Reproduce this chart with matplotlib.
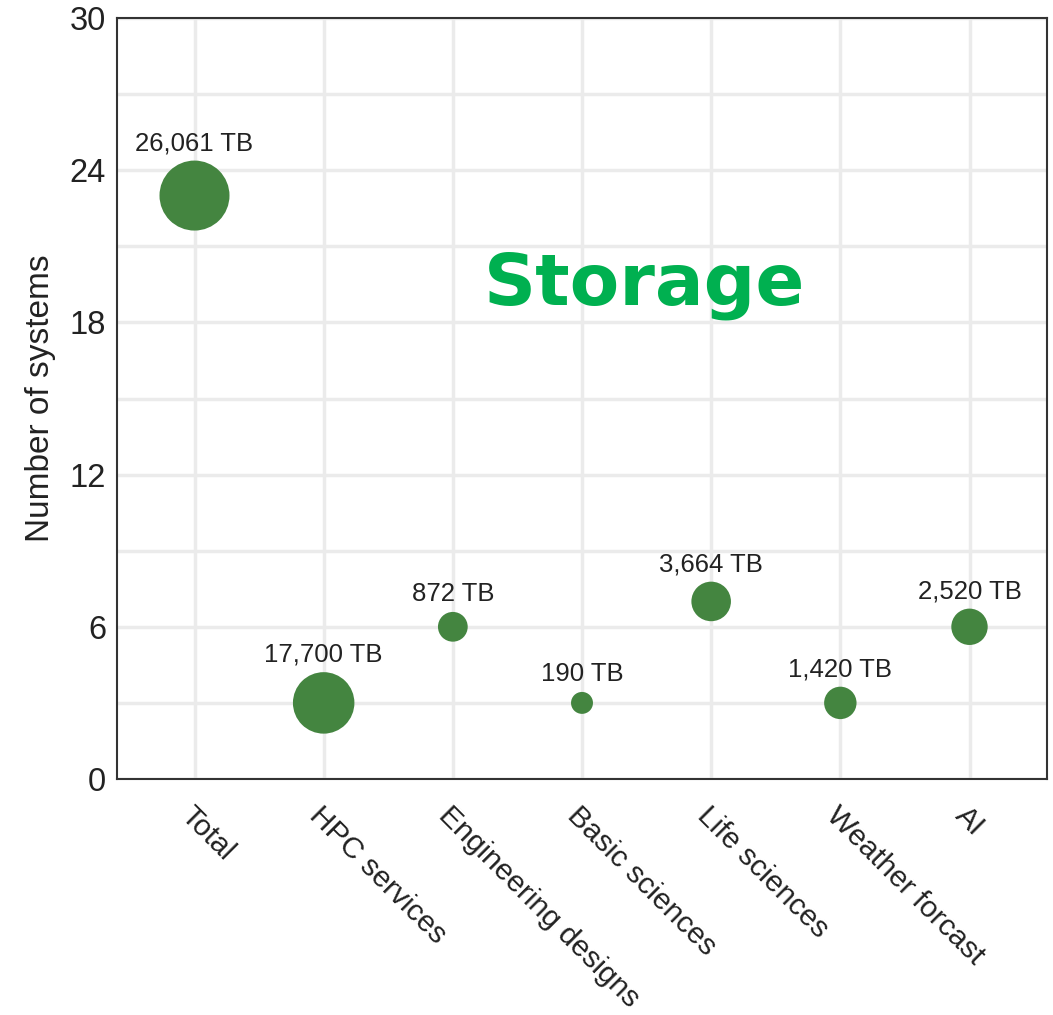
import matplotlib
matplotlib.use("Agg")
import matplotlib.pyplot as plt
import numpy as np

categories = ["Total", "HPC services", "Engineering designs", "Basic sciences",
              "Life sciences", "Weather forcast", "AI"]
systems = [23, 3, 6, 3, 7, 3, 6]
storage_tb = [26061, 17700, 872, 190, 3664, 1420, 2520]
storage_labels = ["26,061 TB", "17,700 TB", "872 TB", "190 TB",
                  "3,664 TB", "1,420 TB", "2,520 TB"]
y_ticks = [0, 6, 12, 18, 24, 30]

plt.rcParams['font.family'] = ['Liberation Sans', 'DejaVu Sans']

fig = plt.figure(figsize=(10.53, 10.15), dpi=100)
ax = fig.add_axes([117/1053, 1 - 779/1015, (1047 - 117)/1053, (779 - 18)/1015])

# ggplot-like area scale: diameter range in points
tb = np.array(storage_tb, dtype=float)
dmin, dmax = 15.8, 50.4
diam = dmin + (dmax - dmin) * np.sqrt((tb - tb.min()) / (tb.max() - tb.min()))

x = np.arange(len(categories))
ax.scatter(x, systems, s=diam**2, color='#448540', edgecolors='none', zorder=3)

for xi, yi, d, lab in zip(x, systems, diam, storage_labels):
    ax.annotate(lab, (xi, yi), xytext=(0, d/2 + 4), textcoords='offset points',
                ha='center', va='bottom', fontsize=18.5, color='#222222', zorder=4)

ax.set_xlim(-0.6, len(categories) - 0.4)
ax.set_ylim(0, 30)
ax.set_yticks(y_ticks)
ax.set_yticks([3, 9, 15, 21, 27], minor=True)
ax.set_yticklabels([str(t) for t in y_ticks], fontsize=23.5, color='#222222')
ax.set_xticks(x)
ax.set_xticklabels(categories, rotation=-45, ha='left', va='top',
                   rotation_mode='anchor', fontsize=21.5, color='#222222')
ax.tick_params(axis='both', which='both', length=0)
ax.tick_params(axis='x', pad=16)
ax.tick_params(axis='y', pad=8)

ax.grid(True, which='both', color='#EBEBEB', linewidth=2.5, zorder=0)
ax.set_axisbelow(True)
for sp in ax.spines.values():
    sp.set_color('#333333')
    sp.set_linewidth(1.5)

ax.set_ylabel("Number of systems", fontsize=24, color='#222222', labelpad=10)

ax.text(0.567, 0.649, "Storage", transform=ax.transAxes, ha='center', va='center',
        fontsize=52, fontweight='bold', color='#00B050',
        family=['DejaVu Sans'], zorder=5)

fig.savefig("out.png", dpi=100, facecolor='white')
